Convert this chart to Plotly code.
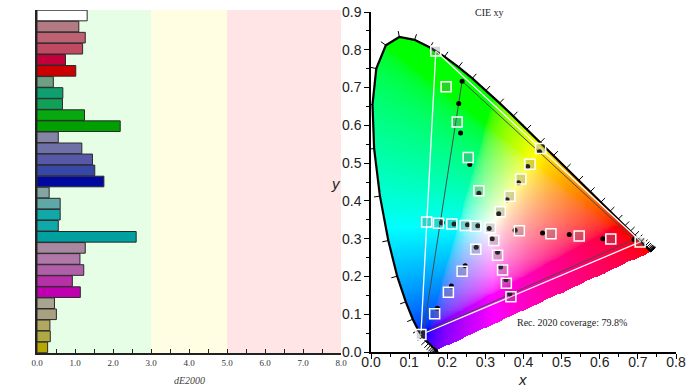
import numpy as np
import plotly.graph_objects as go

# ---------------- data: left panel (dE2000 per patch) ----------------
patch_names = ["White",
               "Red 20%", "Red 40%", "Red 60%", "Red 80%", "Red 100%",
               "Green 20%", "Green 40%", "Green 60%", "Green 80%", "Green 100%",
               "Blue 20%", "Blue 40%", "Blue 60%", "Blue 80%", "Blue 100%",
               "Cyan 20%", "Cyan 40%", "Cyan 60%", "Cyan 80%", "Cyan 100%",
               "Magenta 20%", "Magenta 40%", "Magenta 60%", "Magenta 80%", "Magenta 100%",
               "Yellow 20%", "Yellow 40%", "Yellow 60%", "Yellow 80%", "Yellow 100%"]
de_values = [1.32,
             1.10, 1.27, 1.20, 0.75, 1.02,
             0.43, 0.68, 0.67, 1.25, 2.19,
             0.56, 1.18, 1.46, 1.52, 1.76,
             0.32, 0.61, 0.61, 0.56, 2.61,
             1.27, 1.13, 1.23, 0.93, 1.14,
             0.46, 0.51, 0.34, 0.35, 0.28]
bar_colors = ["#ffffff",
              "#b47a84", "#bc6272", "#c04a62", "#c4003c", "#cc0000",
              "#70a084", "#10a070", "#10a058", "#08a810", "#00a000",
              "#8484a4", "#7070a8", "#5858a8", "#3848a8", "#0008a0",
              "#84a4a4", "#60a8a8", "#10a8a8", "#10a8a8", "#00a0a0",
              "#a888a0", "#b078a8", "#b060a8", "#b830a8", "#c000b0",
              "#a8a490", "#a8a080", "#b0a860", "#b0a840", "#b4a800"]
band_edges = [0, 3, 5, 8]
band_colors = ["#e6fde6", "#fffee3", "#ffe5e5"]
left_ticks = [0, 1, 2, 3, 4, 5, 6, 7, 8]

# ---------------- data: right panel (CIE 1931 xy) ----------------
wavelengths = list(range(380, 705, 5))
locus_x = [0.1741, 0.1740, 0.1738, 0.1736, 0.1733, 0.1730, 0.1726, 0.1721, 0.1714, 0.1703,
           0.1689, 0.1669, 0.1644, 0.1611, 0.1566, 0.1510, 0.1440, 0.1355, 0.1241, 0.1096,
           0.0913, 0.0687, 0.0454, 0.0235, 0.0082, 0.0039, 0.0139, 0.0389, 0.0743, 0.1142,
           0.1547, 0.1929, 0.2296, 0.2658, 0.3016, 0.3373, 0.3731, 0.4087, 0.4441, 0.4788,
           0.5125, 0.5448, 0.5752, 0.6029, 0.6270, 0.6482, 0.6658, 0.6801, 0.6915, 0.7006,
           0.7079, 0.7140, 0.7190, 0.7230, 0.7260, 0.7283, 0.7300, 0.7311, 0.7320, 0.7327,
           0.7334, 0.7340, 0.7344, 0.7346, 0.7347]
locus_y = [0.0050, 0.0050, 0.0049, 0.0049, 0.0048, 0.0048, 0.0048, 0.0048, 0.0051, 0.0058,
           0.0069, 0.0086, 0.0109, 0.0138, 0.0177, 0.0227, 0.0297, 0.0399, 0.0578, 0.0868,
           0.1327, 0.2007, 0.2950, 0.4127, 0.5384, 0.6548, 0.7502, 0.8120, 0.8338, 0.8262,
           0.8059, 0.7816, 0.7543, 0.7243, 0.6923, 0.6589, 0.6245, 0.5896, 0.5547, 0.5202,
           0.4866, 0.4544, 0.4242, 0.3965, 0.3725, 0.3514, 0.3340, 0.3197, 0.3083, 0.2993,
           0.2920, 0.2859, 0.2809, 0.2770, 0.2740, 0.2717, 0.2700, 0.2689, 0.2680, 0.2673,
           0.2666, 0.2660, 0.2656, 0.2654, 0.2653]

rec2020_x = [0.708, 0.170, 0.131, 0.708]
rec2020_y = [0.292, 0.797, 0.046, 0.292]
display_x = [0.690, 0.239, 0.137, 0.690]
display_y = [0.298, 0.717, 0.051, 0.298]

target_x = [0.3127,
            0.389, 0.472, 0.546, 0.629, 0.706,
            0.283, 0.255, 0.226, 0.197, 0.170,
            0.275, 0.239, 0.203, 0.167, 0.131,
            0.275, 0.247, 0.212, 0.177, 0.146,
            0.322, 0.332, 0.345, 0.355, 0.367,
            0.339, 0.364, 0.393, 0.417, 0.445]
target_y = [0.329,
            0.321, 0.313, 0.307, 0.299, 0.291,
            0.427, 0.515, 0.609, 0.702, 0.797,
            0.272, 0.214, 0.158, 0.101, 0.046,
            0.333, 0.335, 0.339, 0.341, 0.344,
            0.295, 0.256, 0.217, 0.182, 0.146,
            0.371, 0.412, 0.458, 0.497, 0.539]
meas_x = [0.310,
          0.378, 0.450, 0.520, 0.608, 0.690,
          0.283, 0.259, 0.235, 0.230, 0.239,
          0.276, 0.247, 0.211, 0.174, 0.137,
          0.280, 0.253, 0.218, 0.187, 0.185,
          0.318, 0.332, 0.340, 0.354, 0.364,
          0.335, 0.357, 0.387, 0.411, 0.442]
meas_y = [0.327,
          0.322, 0.315, 0.311, 0.300, 0.298,
          0.420, 0.496, 0.580, 0.658, 0.717,
          0.277, 0.228, 0.175, 0.116, 0.051,
          0.334, 0.337, 0.339, 0.342, 0.342,
          0.300, 0.264, 0.225, 0.191, 0.154,
          0.366, 0.403, 0.448, 0.491, 0.530]

# ---------------- chromaticity background image ----------------
step = 0.0025
gx = np.arange(0, 0.75 + 1e-9, step)
gy = np.arange(0, 0.85 + 1e-9, step)
XX, YY = np.meshgrid(gx, gy)
px = np.array(locus_x + [locus_x[0]])
py = np.array(locus_y + [locus_y[0]])
inside = np.zeros(XX.shape, dtype=bool)
for i in range(len(px) - 1):
    x1, y1, x2, y2 = px[i], py[i], px[i + 1], py[i + 1]
    cond = (y1 > YY) != (y2 > YY)
    with np.errstate(divide="ignore", invalid="ignore"):
        xint = (x2 - x1) * (YY - y1) / (y2 - y1 + 1e-15) + x1
    inside ^= cond & (XX < xint)
ys = np.maximum(YY, 1e-3)
Xc = XX / ys
Zc = (1 - XX - YY) / ys
M = np.array([[3.2406, -1.5372, -0.4986],
              [-0.9689, 1.8758, 0.0415],
              [0.0557, -0.2040, 1.0570]])
lin = np.stack([M[k, 0] * Xc + M[k, 1] + M[k, 2] * Zc for k in range(3)], axis=-1)
lin = np.clip(lin, 0, None)
lin = lin / np.maximum(lin.max(axis=-1, keepdims=True), 1e-9)
srgb = np.where(lin <= 0.0031308, 12.92 * lin, 1.055 * np.power(lin, 1 / 2.4) - 0.055)
rgb = np.round(np.clip(srgb, 0, 1) * 255).astype(int)
alpha = inside.astype(float)
img = np.concatenate([rgb, alpha[..., None]], axis=-1)
img_list = [[[int(p[0]), int(p[1]), int(p[2]), float(p[3])] for p in row] for row in img]

# wavelength tick marks on the locus
lx = np.array(locus_x)
ly = np.array(locus_y)
tick_x, tick_y = [], []
L = 0.016
for i in range(len(lx)):
    a = max(i - 1, 0)
    b = min(i + 1, len(lx) - 1)
    tx, ty = lx[b] - lx[a], ly[b] - ly[a]
    n = np.hypot(tx, ty)
    if n == 0:
        continue
    nx, ny = -ty / n, tx / n
    if (lx[i] - 0.33) * nx + (ly[i] - 0.33) * ny < 0:
        nx, ny = -nx, -ny
    tick_x += [lx[i], lx[i] + L * nx, None]
    tick_y += [ly[i], ly[i] + L * ny, None]

fig = go.Figure()

# ---------------- left panel ----------------
for i in range(len(band_colors)):
    fig.add_shape(type="rect", xref="x", yref="y domain",
                  x0=band_edges[i], x1=band_edges[i + 1], y0=0, y1=1,
                  fillcolor=band_colors[i], line_width=0, layer="below")

fig.add_trace(go.Bar(orientation="h", x=de_values, y=patch_names,
                     marker=dict(color=bar_colors, line=dict(color="#2a2a2a", width=1)),
                     xaxis="x", yaxis="y", showlegend=False))

# ---------------- right panel ----------------
fig.add_trace(go.Image(z=img_list, colormodel="rgba", x0=0, dx=step, y0=0, dy=step,
                       xaxis="x2", yaxis="y2", hoverinfo="skip"))
fig.add_trace(go.Scatter(x=locus_x, y=locus_y, mode="lines",
                         line=dict(color="black", width=2.2),
                         xaxis="x2", yaxis="y2", showlegend=False, hoverinfo="skip"))
fig.add_trace(go.Scatter(x=tick_x, y=tick_y, mode="lines",
                         line=dict(color="black", width=1),
                         xaxis="x2", yaxis="y2", showlegend=False, hoverinfo="skip"))
fig.add_trace(go.Scatter(x=rec2020_x, y=rec2020_y, mode="lines",
                         line=dict(color="white", width=1.3),
                         xaxis="x2", yaxis="y2", showlegend=False))
fig.add_trace(go.Scatter(x=display_x, y=display_y, mode="lines",
                         line=dict(color="#4a4a4a", width=1),
                         xaxis="x2", yaxis="y2", showlegend=False))
fig.add_trace(go.Scatter(x=meas_x, y=meas_y, mode="markers",
                         marker=dict(color="black", size=5),
                         xaxis="x2", yaxis="y2", showlegend=False))
fig.add_trace(go.Scatter(x=target_x, y=target_y, mode="markers",
                         marker=dict(symbol="square", size=10, color="rgba(120,120,120,0.3)",
                                     line=dict(color="white", width=1.5)),
                         xaxis="x2", yaxis="y2", showlegend=False))
# empty trace that carries the overlaid x-label axis
fig.add_trace(go.Scatter(x=[None], y=[None], mode="markers", xaxis="x3", yaxis="y2",
                         showlegend=False, hoverinfo="skip"))

W, H = 693, 390
xfont = dict(family="Liberation Sans", size=14, color="#222")
fig.update_layout(
    width=W, height=H,
    margin=dict(l=0, r=0, t=0, b=0, autoexpand=False),
    paper_bgcolor="white", plot_bgcolor="rgba(0,0,0,0)",
    bargap=0.04, showlegend=False,
    xaxis=dict(domain=[37 / W, 341 / W], range=[0, 8], anchor="y", automargin=False,
               tickvals=left_ticks, ticktext=[f"{v:.1f}" for v in left_ticks],
               ticks="inside", ticklen=4, tickcolor="#222",
               minor=dict(dtick=0.5, tick0=0, ticks="inside", ticklen=4, tickcolor="#222"),
               showline=True, linecolor="#222", linewidth=1.5,
               showgrid=False, zeroline=False,
               tickfont=dict(family="Liberation Serif", size=9, color="#333")),
    yaxis=dict(domain=[(H - 353) / H, (H - 10) / H], anchor="x", automargin=False,
               categoryorder="array", categoryarray=patch_names,
               range=[len(patch_names) - 0.5, -0.5], autorange=False,
               showticklabels=False, ticks="", showgrid=False, zeroline=False,
               showline=True, linecolor="#222", linewidth=1.5),
    xaxis2=dict(domain=[371 / W, 676 / W], range=[0, 0.8], autorange=False, anchor="y2",
                automargin=False, constrain="range",
                dtick=0.1, tick0=0, showticklabels=False,
                ticks="outside", ticklen=5, tickwidth=1.2, tickcolor="black",
                minor=dict(dtick=0.05, tick0=0, ticks="outside", ticklen=3, tickcolor="black"),
                showline=True, linecolor="black", linewidth=1.5,
                showgrid=False, zeroline=False),
    xaxis3=dict(overlaying="x2", anchor="y2", range=[0, 0.8], autorange=False,
                automargin=False, constrain="range",
                dtick=0.1, tick0=0, tickformat=".1f", ticks="",
                showline=False, showgrid=False, zeroline=False, tickfont=xfont),
    yaxis2=dict(domain=[(H - 352) / H, (H - 12) / H], range=[0, 0.9], autorange=False,
                anchor="x2", scaleanchor=False, automargin=False, constrain="range",
                dtick=0.1, tick0=0, tickformat=".1f",
                ticks="outside", ticklen=5, tickwidth=1.2, tickcolor="black",
                minor=dict(dtick=0.05, tick0=0, ticks="outside", ticklen=3, tickcolor="black"),
                showline=True, linecolor="black", linewidth=1.5,
                showgrid=False, zeroline=False, tickfont=xfont),
)

ann = dict(xref="paper", yref="paper", showarrow=False, xanchor="center", yanchor="middle")
fig.add_annotation(text="<i>dE2000</i>", x=189 / W, y=(H - 380) / H,
                   font=dict(family="Liberation Serif", size=10, color="#444"), **ann)
fig.add_annotation(text="CIE xy", x=489 / W, y=(H - 13) / H,
                   font=dict(family="Liberation Serif", size=10, color="#222"), **ann)
fig.add_annotation(text="Rec. 2020 coverage: 79.8%", x=572 / W, y=(H - 322) / H,
                   font=dict(family="Liberation Serif", size=10, color="#222"), **ann)
fig.add_annotation(text="<i>x</i>", x=522 / W, y=(H - 379) / H,
                   font=dict(family="Liberation Sans", size=15, color="#222"), **ann)
fig.add_annotation(text="<i>y</i>", x=336 / W, y=(H - 183) / H,
                   font=dict(family="Liberation Sans", size=15, color="#222"), **ann)

fig.write_html("out.html", config={"displayModeBar": False},
               post_script="document.body.style.margin='0px';")
